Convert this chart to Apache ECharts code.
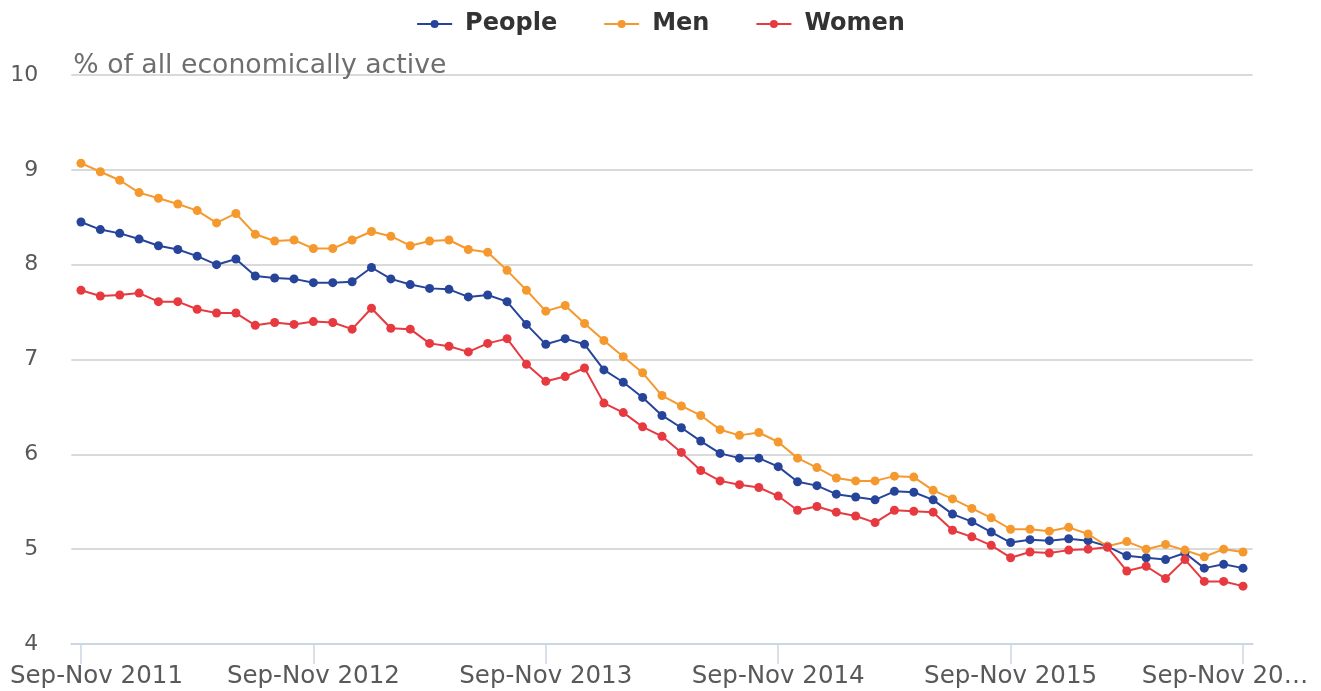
<!DOCTYPE html>
<html>
<head>
<meta charset="utf-8">
<script src="https://cdn.jsdelivr.net/npm/echarts@6/dist/echarts.min.js"></script>
<style>
html,body{margin:0;padding:0;background:#fff;}
#chart{width:1321px;height:691px;}
</style>
</head>
<body>
<div id="chart"></div>
<script>
var categories = [
 'Sep-Nov 2011','Oct-Dec 2011','Nov-Jan 2012','Dec-Feb 2012','Jan-Mar 2012','Feb-Apr 2012','Mar-May 2012','Apr-Jun 2012','May-Jul 2012','Jun-Aug 2012','Jul-Sep 2012','Aug-Oct 2012',
 'Sep-Nov 2012','Oct-Dec 2012','Nov-Jan 2013','Dec-Feb 2013','Jan-Mar 2013','Feb-Apr 2013','Mar-May 2013','Apr-Jun 2013','May-Jul 2013','Jun-Aug 2013','Jul-Sep 2013','Aug-Oct 2013',
 'Sep-Nov 2013','Oct-Dec 2013','Nov-Jan 2014','Dec-Feb 2014','Jan-Mar 2014','Feb-Apr 2014','Mar-May 2014','Apr-Jun 2014','May-Jul 2014','Jun-Aug 2014','Jul-Sep 2014','Aug-Oct 2014',
 'Sep-Nov 2014','Oct-Dec 2014','Nov-Jan 2015','Dec-Feb 2015','Jan-Mar 2015','Feb-Apr 2015','Mar-May 2015','Apr-Jun 2015','May-Jul 2015','Jun-Aug 2015','Jul-Sep 2015','Aug-Oct 2015',
 'Sep-Nov 2015','Oct-Dec 2015','Nov-Jan 2016','Dec-Feb 2016','Jan-Mar 2016','Feb-Apr 2016','Mar-May 2016','Apr-Jun 2016','May-Jul 2016','Jun-Aug 2016','Jul-Sep 2016','Aug-Oct 2016',
 'Sep-Nov 2016'
];
var people = [8.45,8.37,8.33,8.27,8.20,8.16,8.09,8.00,8.06,7.88,7.86,7.85,7.81,7.81,7.82,7.97,7.85,7.79,7.75,7.74,7.66,7.68,7.61,7.37,7.16,7.22,7.16,6.89,6.76,6.60,6.41,6.28,6.14,6.01,5.96,5.96,5.87,5.71,5.67,5.58,5.55,5.52,5.61,5.60,5.52,5.37,5.29,5.18,5.07,5.10,5.09,5.11,5.09,5.03,4.93,4.91,4.89,4.96,4.80,4.84,4.80];
var men = [9.07,8.98,8.89,8.76,8.70,8.64,8.57,8.44,8.54,8.32,8.25,8.26,8.17,8.17,8.26,8.35,8.30,8.20,8.25,8.26,8.16,8.13,7.94,7.73,7.51,7.57,7.38,7.20,7.03,6.86,6.62,6.51,6.41,6.26,6.20,6.23,6.13,5.96,5.86,5.75,5.72,5.72,5.77,5.76,5.62,5.53,5.43,5.33,5.21,5.21,5.19,5.23,5.16,5.03,5.08,5.00,5.05,4.99,4.92,5.00,4.97];
var women = [7.73,7.67,7.68,7.70,7.61,7.61,7.53,7.49,7.49,7.36,7.39,7.37,7.40,7.39,7.32,7.54,7.33,7.32,7.17,7.14,7.08,7.17,7.22,6.95,6.77,6.82,6.91,6.54,6.44,6.29,6.19,6.02,5.83,5.72,5.68,5.65,5.56,5.41,5.45,5.39,5.35,5.28,5.41,5.40,5.39,5.20,5.13,5.04,4.91,4.97,4.96,4.99,5.00,5.02,4.77,4.82,4.69,4.89,4.66,4.66,4.61];
var seriesNames = ['People','Men','Women'];
var yTicks = {min:4, max:10, interval:1};
var yName = '% of all economically active';

var colors = ['#27449b','#f5992e','#e63a40'];
var FONT = 'DejaVu Sans';
var chart = echarts.init(document.getElementById('chart'));
var lastIdx = categories.length - 1;

function mk(name, data, color){
  return {
    name: name, type: 'line', data: data,
    symbol: 'circle', symbolSize: 9, showAllSymbol: true,
    itemStyle: {color: color},
    lineStyle: {color: color, width: 2},
    emphasis: {disabled: true}
  };
}

chart.setOption({
  animation: false,
  color: colors,
  legend: {
    left: 'center', top: 7,
    itemWidth: 35, itemHeight: 10, itemGap: 46,
    textStyle: {fontFamily: FONT, fontSize: 24, fontWeight: 'bold', color: '#333', padding: [0,0,0,8]},
    data: seriesNames
  },
  grid: {left: 71.3, right: 68.3, top: 75, bottom: 47},
  xAxis: {
    type: 'category', data: categories, boundaryGap: true,
    axisLine: {lineStyle: {color: '#ccd6e6', width: 2}},
    axisTick: {show: true, alignWithLabel: true, interval: 11, length: 20, lineStyle: {color: '#ccd6e6', width: 1.5}},
    axisLabel: {
      interval: 11, margin: 20, fontFamily: FONT, fontSize: 24.5, color: '#595959',
      formatter: function(v, i){
        if (i === 0) return '{f|' + v + '}';
        if (i === lastIdx) return '{l|' + v.slice(0, 10) + '…}';
        return v;
      },
      rich: {
        f: {fontFamily: FONT, fontSize: 24.5, color: '#595959', padding: [0,0,0,31]},
        l: {fontFamily: FONT, fontSize: 24.5, color: '#595959', padding: [0,36,0,0]}
      }
    },
    splitLine: {show: false}
  },
  yAxis: {
    type: 'value', min: yTicks.min, max: yTicks.max, interval: yTicks.interval,
    name: yName, nameLocation: 'end', nameGap: -5,
    nameTextStyle: {fontFamily: FONT, fontSize: 26.7, color: '#6e6e6e', align: 'left', padding: [0,0,0,2]},
    axisLine: {show: false}, axisTick: {show: false},
    axisLabel: {margin: 33, fontFamily: FONT, fontSize: 22, color: '#595959'},
    splitLine: {lineStyle: {color: '#dadada', width: 2}}
  },
  series: [mk(seriesNames[0], people, colors[0]), mk(seriesNames[1], men, colors[1]), mk(seriesNames[2], women, colors[2])]
});
</script>
</body>
</html>
